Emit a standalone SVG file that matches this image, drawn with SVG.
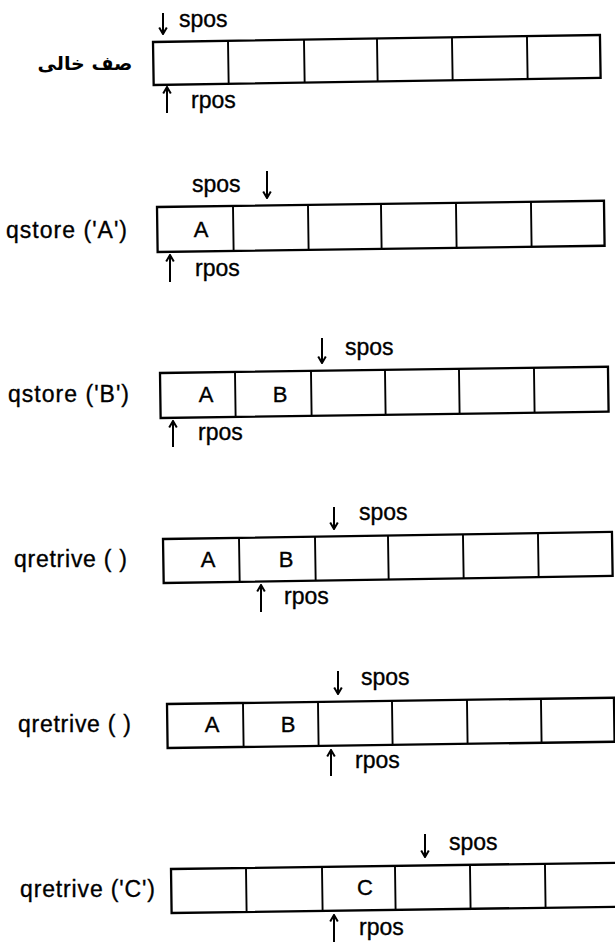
<svg xmlns="http://www.w3.org/2000/svg" width="615" height="946" viewBox="0 0 615 946">
<style>
.box{fill:#fff;stroke:#000;stroke-width:2.3}
.div{stroke:#000;stroke-width:1.9}
.arr{stroke:#000;stroke-width:2;fill:none}
.t{font-family:"Liberation Sans",Arial,sans-serif;font-size:23px;fill:#000;stroke:#000;stroke-width:0.35}
.c{font-family:"Liberation Sans",Arial,sans-serif;font-size:22px;fill:#000;stroke:#000;stroke-width:0.35;text-anchor:middle}
.fa{font-family:"DejaVu Sans","Noto Sans",sans-serif;font-size:19px;font-weight:bold;fill:#000;text-anchor:middle}
</style>
<defs>
<marker id="ah" viewBox="0 0 10 10" refX="9" refY="5" markerWidth="10" markerHeight="10" markerUnits="userSpaceOnUse" orient="auto">
<path d="M2.5,1.2 L9,5 L2.5,8.8" fill="none" stroke="#000" stroke-width="2"/>
</marker>
</defs>
<rect width="615" height="946" fill="#fff"/>

<g id="row1">
<g transform="rotate(-0.9 153 42)">
<rect class="box" x="153" y="42" width="447" height="43"/>
<path class="div" d="M228,42V85M304,42V85M377,42V85M452,42V85M527,42V85"/>
</g>
<text class="fa" x="85" y="70">صف خالی</text>
</g>

<g id="row2">
<g transform="rotate(-0.8 157 207)">
<rect class="box" x="157" y="207" width="447" height="45"/>
<path class="div" d="M233,207V252M308,207V252M381,207V252M456,207V252M531,207V252"/>
</g>
<text class="c" x="201" y="237">A</text>
<text class="t" x="6" y="238" textLength="121" lengthAdjust="spacing">qstore ('A')</text>
</g>

<g id="row3">
<g transform="rotate(-0.8 160 373)">
<rect class="box" x="160" y="373" width="448" height="45"/>
<path class="div" d="M235,373V418M311,373V418M385,373V418M459,373V418M534,373V418"/>
</g>
<text class="c" x="206" y="402">A</text>
<text class="c" x="280" y="402">B</text>
<text class="t" x="8" y="402" textLength="121" lengthAdjust="spacing">qstore ('B')</text>
</g>

<g id="row4">
<g transform="rotate(-0.9 163 539)">
<rect class="box" x="163" y="539" width="449" height="44"/>
<path class="div" d="M239,539V583M315,539V583M388,539V583M463,539V583M538,539V583"/>
</g>
<text class="c" x="208" y="567">A</text>
<text class="c" x="286" y="567">B</text>
<text class="t" x="14" y="567" textLength="113" lengthAdjust="spacing">qretrive ( )</text>
</g>

<g id="row5">
<g transform="rotate(-0.8 167 704)">
<rect class="box" x="167" y="704" width="447" height="44"/>
<path class="div" d="M243,704V748M318,704V748M392,704V748M467,704V748M541,704V748"/>
</g>
<text class="c" x="212" y="732">A</text>
<text class="c" x="288" y="732">B</text>
<text class="t" x="18" y="732" textLength="113" lengthAdjust="spacing">qretrive ( )</text>
</g>

<g id="row6">
<g transform="rotate(-0.8 171 869)">
<rect class="box" x="171" y="869" width="452" height="44"/>
<path class="div" d="M246,869V913M322,869V913M395,869V913M470,869V913M545,869V913"/>
</g>
<text class="c" x="365" y="895">C</text>
<text class="t" x="20" y="897" textLength="135" lengthAdjust="spacing">qretrive ('C')</text>
</g>

<g id="pointers">
<g id="connectors">
<line class="arr" x1="163" y1="13" x2="163" y2="34" marker-end="url(#ah)"/>
<line class="arr" x1="167" y1="113" x2="167" y2="87" marker-end="url(#ah)"/>
<line class="arr" x1="267" y1="171" x2="267" y2="198" marker-end="url(#ah)"/>
<line class="arr" x1="170" y1="282" x2="170" y2="255" marker-end="url(#ah)"/>
<line class="arr" x1="322" y1="338" x2="322" y2="363" marker-end="url(#ah)"/>
<line class="arr" x1="173" y1="447" x2="173" y2="421" marker-end="url(#ah)"/>
<line class="arr" x1="334" y1="507" x2="334" y2="529" marker-end="url(#ah)"/>
<line class="arr" x1="261" y1="612" x2="261" y2="585" marker-end="url(#ah)"/>
<line class="arr" x1="338" y1="671" x2="338" y2="694" marker-end="url(#ah)"/>
<line class="arr" x1="331" y1="776" x2="331" y2="750" marker-end="url(#ah)"/>
<line class="arr" x1="425" y1="834" x2="425" y2="857" marker-end="url(#ah)"/>
<line class="arr" x1="334" y1="942" x2="334" y2="915" marker-end="url(#ah)"/>
</g>
<text class="t" x="179" y="27">spos</text>
<text class="t" x="191" y="108">rpos</text>
<text class="t" x="192" y="192">spos</text>
<text class="t" x="195" y="276">rpos</text>
<text class="t" x="345" y="355">spos</text>
<text class="t" x="198" y="440">rpos</text>
<text class="t" x="359" y="520">spos</text>
<text class="t" x="284" y="604">rpos</text>
<text class="t" x="361" y="685">spos</text>
<text class="t" x="355" y="768">rpos</text>
<text class="t" x="449" y="850">spos</text>
<text class="t" x="359" y="935">rpos</text>
</g>
</svg>
